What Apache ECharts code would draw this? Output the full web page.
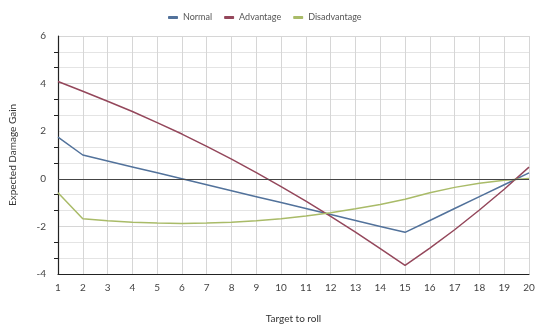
<!DOCTYPE html>
<html>
<head>
<meta charset="utf-8">
<script src="https://cdn.jsdelivr.net/npm/echarts@6/dist/echarts.min.js"></script>
<style>html,body{margin:0;padding:0;background:#fff}#c{width:540px;height:329px}</style>
</head>
<body>
<div id="c"></div>
<script>
const targets = [1,2,3,4,5,6,7,8,9,10,11,12,13,14,15,16,17,18,19,20];
const normal = [1.75,1.0,0.75,0.5,0.25,0,-0.25,-0.5,-0.75,-1.0,-1.25,-1.5,-1.75,-2.0,-2.25,-1.75,-1.25,-0.75,-0.25,0.25];
const advantage = [4.09,3.68,3.26,2.83,2.36,1.88,1.36,0.83,0.26,-0.33,-0.94,-1.58,-2.24,-2.93,-3.64,-2.91,-2.14,-1.31,-0.44,0.49];
const disadvantage = [-0.59,-1.68,-1.76,-1.83,-1.86,-1.88,-1.86,-1.83,-1.76,-1.68,-1.56,-1.43,-1.26,-1.08,-0.86,-0.59,-0.36,-0.19,-0.06,0.01];
const seriesNames = ['Normal','Advantage','Disadvantage'];
const colors = ['#52729b','#94475b','#a9bb68'];

const pair = arr => targets.map((t,i)=>[t,arr[i]]);
const chart = echarts.init(document.getElementById('c'));
const font = 'Lato';
chart.setOption({
  animation:false,
  color: colors,
  textStyle:{fontFamily:font},
  legend:{
    top:8, left:163,
    icon:'roundRect', itemWidth:10, itemHeight:3, itemGap:12,
    textStyle:{fontSize:9,color:'#555',fontFamily:font},
    data: seriesNames
  },
  grid:{left:58,right:11,top:36,bottom:54},
  xAxis:{
    type:'value', min:1, max:20, interval:1,
    name:'Target to roll', nameLocation:'middle', nameGap:40,
    nameTextStyle:{fontSize:10,color:'#333'},
    axisLine:{onZero:false,lineStyle:{color:'#222',width:1.2}},
    axisTick:{show:false},
    axisLabel:{fontSize:10,color:'#444',margin:9},
    splitLine:{show:true,lineStyle:{color:'#d6d6d6'}}
  },
  yAxis:{
    type:'value', min:-4, max:6, interval:2,
    name:'Expected Damage Gain', nameLocation:'middle', nameGap:40,
    nameTextStyle:{fontSize:10,color:'#333'},
    axisLine:{show:true,lineStyle:{color:'#222',width:1.2}},
    axisTick:{show:false},
    minorTick:{show:true,splitNumber:3,length:4,lineStyle:{color:'#222'}},
    axisLabel:{fontSize:10,color:'#444',margin:12},
    splitLine:{show:true,lineStyle:{color:'#d6d6d6'}},
    minorSplitLine:{show:true,lineStyle:{color:'#e4e4e4'}}
  },
  series:[
    {name:seriesNames[0],type:'line',data:pair(normal),showSymbol:false,lineStyle:{width:1.5},
     markLine:{silent:true,symbol:'none',label:{show:false},lineStyle:{color:'#444',width:1,type:'solid'},data:[{yAxis:0}]}},
    {name:seriesNames[1],type:'line',data:pair(advantage),showSymbol:false,lineStyle:{width:1.5}},
    {name:seriesNames[2],type:'line',data:pair(disadvantage),showSymbol:false,lineStyle:{width:1.5}}
  ]
});
</script>
</body>
</html>
